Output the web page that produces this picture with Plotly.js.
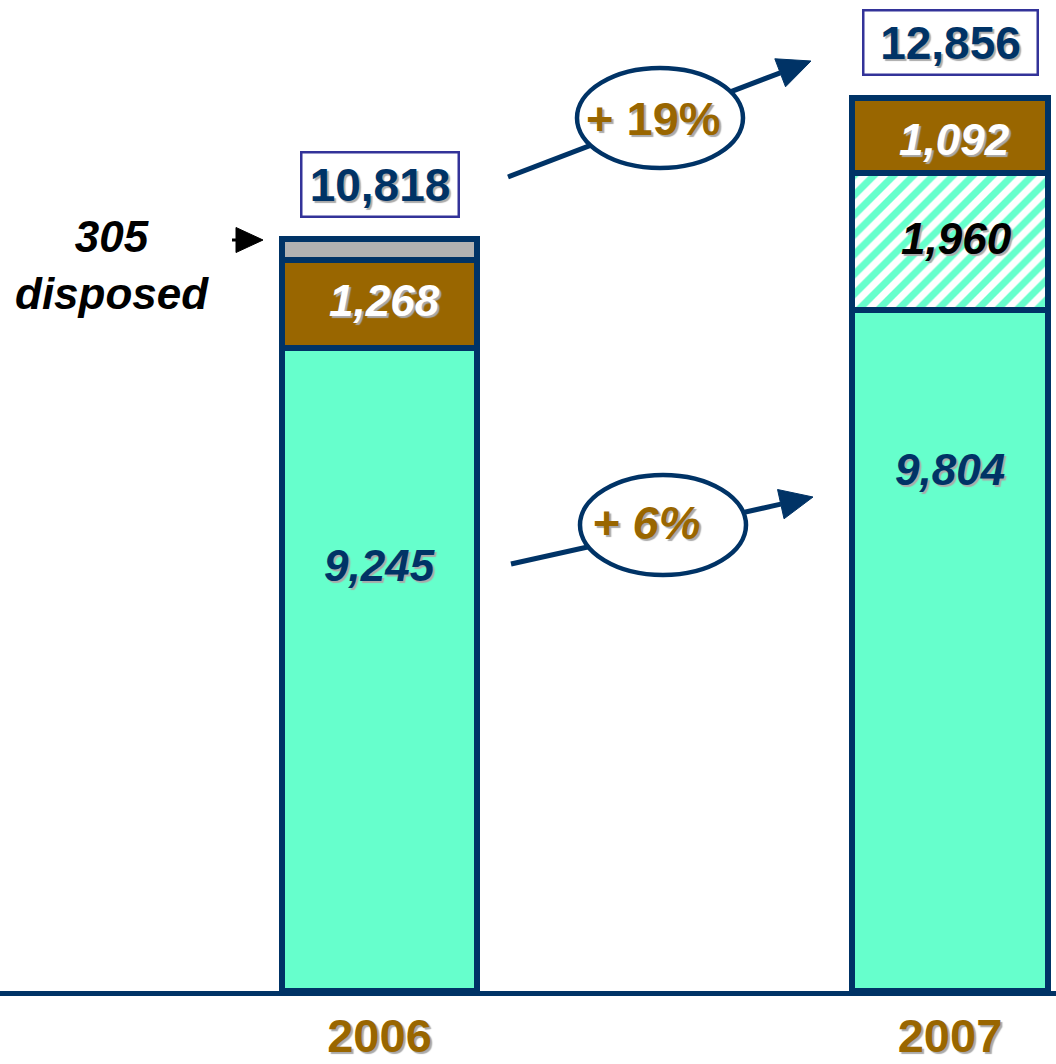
<!DOCTYPE html>
<html>
<head>
<meta charset="utf-8">
<script src="https://cdn.plot.ly/plotly-3.0.1.min.js"></script>
<style>html,body{margin:0;padding:0;background:#fff;}#chart{width:1056px;height:1064px;}</style>
</head>
<body>
<div id="chart"></div>
<script>
// ---- data ----
const categories = ['2006', '2007'];
const baseValues = [9245, 9804];        // aqua (existing)
const newValues = [null, 1960];         // hatched (new)
const brownValues = [1268, 1092];       // brown
const disposedValues = [305, null];     // grey (disposed)
const growthLabels = ['+ 19%', '+ 6%'];
const disposedLabel = '305<br>disposed';

const totals = categories.map((c, i) =>
  (baseValues[i] || 0) + (newValues[i] || 0) + (brownValues[i] || 0) + (disposedValues[i] || 0));
const fmt = v => v.toLocaleString('en-US');

// ---- style ----
const AQUA = '#66FFCC', BROWN = '#996600', NAVY = '#003366', GREY = '#B2B2B2';
const FONT = 'Liberation Sans, Arial, sans-serif';
const W = 1056, H = 1064, MB = 73, PH = H - MB;
const px = x => x / W;
const py = y => (PH - y) / PH;
const outline = {color: NAVY, width: 6};
const BW = 0.342;
const totalBoxWidths = [145, 162];

const traces = [
  {type: 'bar', x: categories, y: baseValues, width: BW, marker: {color: AQUA, line: outline}, hoverinfo: 'skip'},
  {type: 'bar', x: categories, y: newValues, width: BW,
   marker: {color: 'white', line: outline,
            pattern: {shape: '/', fgcolor: AQUA, bgcolor: 'white', size: 14, solidity: 0.5, fillmode: 'replace'}},
   hoverinfo: 'skip'},
  {type: 'bar', x: categories, y: brownValues, width: BW, marker: {color: BROWN, line: outline}, hoverinfo: 'skip'},
  {type: 'bar', x: categories, y: disposedValues, width: BW, marker: {color: GREY, line: outline}, hoverinfo: 'skip'}
];

function arrow(x0, y0, x1, y1, len, wid, color, lw) {
  const dx = x1 - x0, dy = y1 - y0, d = Math.hypot(dx, dy);
  const ux = dx / d, uy = dy / d, nx = -uy, ny = ux;
  const bx = x1 - len * ux, by = y1 - len * uy;
  const p1 = [bx + nx * wid / 2, by + ny * wid / 2], p2 = [bx - nx * wid / 2, by - ny * wid / 2];
  return [
    {type: 'line', xref: 'paper', yref: 'paper', x0: px(x0), y0: py(y0), x1: px(bx), y1: py(by),
     line: {color: color, width: lw}},
    {type: 'path', xref: 'paper', yref: 'paper',
     path: `M ${px(x1)} ${py(y1)} L ${px(p1[0])} ${py(p1[1])} L ${px(p2[0])} ${py(p2[1])} Z`,
     fillcolor: color, line: {color: color, width: 1}}
  ];
}
function ellipse(cx, cy, rx, ry) {
  return {type: 'circle', xref: 'paper', yref: 'paper',
          x0: px(cx - rx), x1: px(cx + rx), y0: py(cy + ry), y1: py(cy - ry),
          fillcolor: 'white', line: {color: NAVY, width: 4.5}};
}

const shapes = [
  ...arrow(508, 177, 811, 61, 33, 30, NAVY, 5),
  ...arrow(511, 564, 813, 497, 33, 30, NAVY, 5),
  ...arrow(232, 240, 263, 240, 27, 25, 'black', 3),
  ellipse(660, 118, 83, 50),
  ellipse(663, 525, 83, 50)
];

const shadow = '2px 2px 1px #aaaaaa';
const valFont = (color) => ({family: FONT, size: 44, color: color, weight: 'bold', style: 'italic', shadow: shadow});
const C = {showarrow: false, xanchor: 'center', yanchor: 'middle'};

const annotations = [
  // segment values (x given as category index)
  {...C, x: 0, y: baseValues[0] * 0.663, text: fmt(baseValues[0]), font: valFont(NAVY)},
  {...C, x: 1, y: baseValues[1] * 0.765, text: fmt(baseValues[1]), font: valFont(NAVY)},
  {...C, x: 0, y: baseValues[0] + brownValues[0] * 0.55, text: fmt(brownValues[0]), xshift: 5, font: valFont('white')},
  {...C, x: 1, y: baseValues[1] + newValues[1] * 0.52, text: fmt(newValues[1]), xshift: 6, font: valFont('black')},
  {...C, x: 1, y: baseValues[1] + newValues[1] + brownValues[1] * 0.45, text: fmt(brownValues[1]), xshift: 4, font: valFont('white')},
  // totals
  ...categories.map((c, i) => ({
    ...C, x: i, y: totals[i], yshift: 55, text: fmt(totals[i]), width: totalBoxWidths[i],
    bordercolor: '#333399', borderwidth: 2.5, borderpad: 5, bgcolor: 'white',
    font: {family: FONT, size: 46, color: NAVY, weight: 'bold', shadow: shadow}
  })),
  // growth labels
  {...C, xref: 'paper', yref: 'paper', x: px(653), y: py(118), text: growthLabels[0],
   font: {family: FONT, size: 47, color: BROWN, weight: 'bold', shadow: shadow}},
  {...C, xref: 'paper', yref: 'paper', x: px(646), y: py(522), text: growthLabels[1],
   font: {family: FONT, size: 47, color: BROWN, weight: 'bold', style: 'italic', shadow: shadow}},
  // disposed label
  {...C, xref: 'paper', yref: 'paper', x: px(112), y: py(265), text: disposedLabel, align: 'center',
   font: {family: FONT, size: 44, color: 'black', weight: 'bold', style: 'italic'}}
];

const layout = {
  width: W, height: H,
  margin: {l: 0, r: 0, t: 0, b: MB, pad: 0},
  paper_bgcolor: 'white', plot_bgcolor: 'white',
  barmode: 'stack', showlegend: false,
  xaxis: {type: 'category', range: [-0.6652, 1.1858], showline: true, linecolor: NAVY, linewidth: 5,
          ticks: '', showgrid: false, zeroline: false,
          tickfont: {family: FONT, size: 47, color: BROWN, weight: 'bold', shadow: shadow}},
  yaxis: {range: [0, PH / 0.0695], visible: false, showgrid: false, zeroline: false},
  shapes: shapes,
  annotations: annotations
};

Plotly.newPlot('chart', traces, layout, {displayModeBar: false, staticPlot: true});
</script>
</body>
</html>
